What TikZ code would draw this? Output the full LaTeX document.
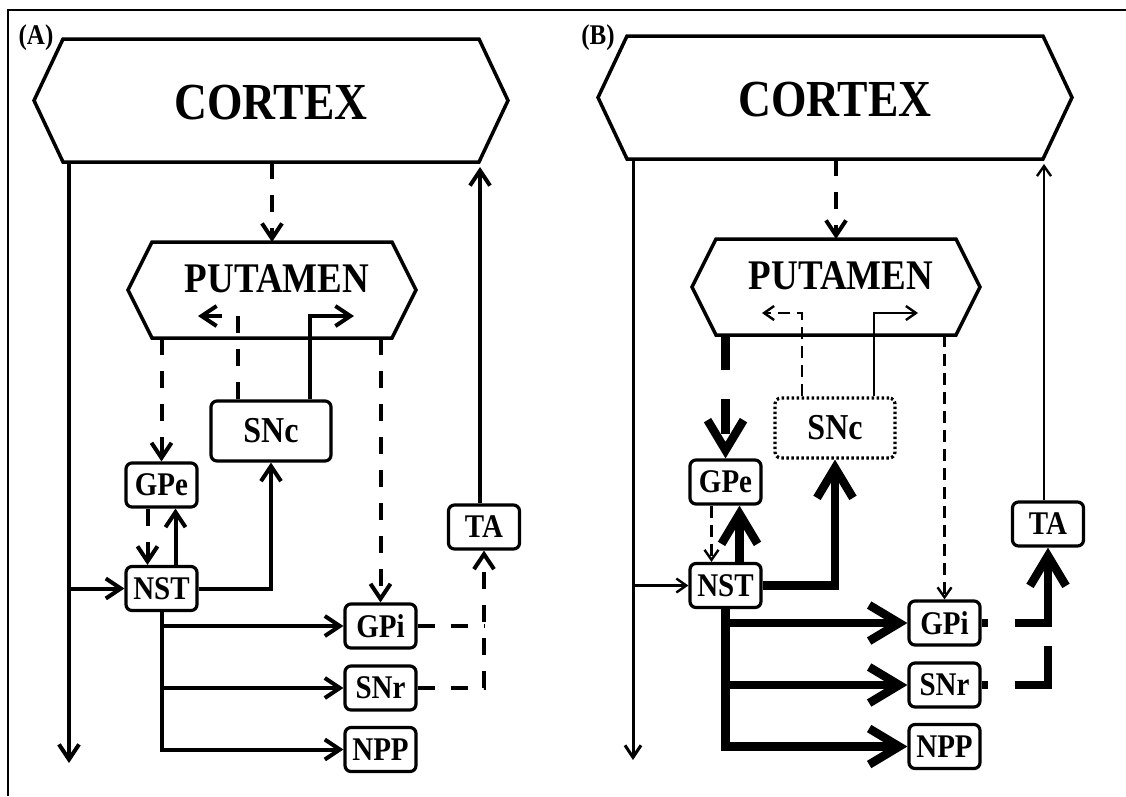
\documentclass[tikz,border=0pt]{standalone}
\usepackage{fontspec}
\setmainfont{Liberation Serif}
\usepackage{graphicx}
\usetikzlibrary{arrows.meta}
\newcommand\tall[1]{\scalebox{1}[1.14]{#1}}
\tikzset{
  fs/.style={font=\fontsize{#1}{#1}\selectfont\bfseries},
  region/.style={inner sep=0pt, outer sep=0pt},
  hex/.style={line width=3.5pt, line join=miter},
  box/.style={draw, line width=3.2pt, rounded corners=6pt, minimum width=71pt,
    minimum height=44pt, inner sep=0pt, fs=29},
  sncbox/.style={box, minimum width=120pt, minimum height=60pt, fs=32},
  wire/.style={line width=4pt},
  fine/.style={line width=2.4pt},
  heavy/.style={line width=8.5pt},
  tipA/.style={-{Straight Barb[length=15pt,width=20pt]}},
  tipM/.style={-{Straight Barb[length=12pt,width=16pt]}},
  tipS/.style={-{Straight Barb[length=10pt,width=14pt]}},
  tipL/.style={-{Straight Barb[length=30pt,width=36pt]}},
  dashA/.style={dash pattern=on 17pt off 16pt},
  dashS/.style={dash pattern=on 12pt off 7pt},
  dashL/.style={dash pattern=on 35pt off 29pt},
}
\begin{document}
\begin{tikzpicture}[x=1pt,y=-1pt]
\useasboundingbox (0,0) rectangle (1126,796);
% outer frame
\draw[line width=2pt] (8,796) -- (8,10) -- (1126,10);

% ---------------- panel A ----------------
\node[region, minimum width=474pt, minimum height=123pt] (a-cortex) at (271,100.5) {};
\draw[hex] ([xshift=29pt]a-cortex.north west) -- ([xshift=-29pt]a-cortex.north east)
  -- (a-cortex.east) -- ([xshift=-29pt]a-cortex.south east)
  -- ([xshift=29pt]a-cortex.south west) -- (a-cortex.west) -- cycle;
\node[fs=45.6] (a-cortexlbl) at (271,103) {\tall{CORTEX}};
\node[region, minimum width=288pt, minimum height=96pt] (a-put) at (272,290) {};
\draw[hex] ([xshift=24pt]a-put.north west) -- ([xshift=-24pt]a-put.north east)
  -- (a-put.east) -- ([xshift=-24pt]a-put.south east)
  -- ([xshift=24pt]a-put.south west) -- (a-put.west) -- cycle;
\node[fs=37] (a-putlbl) at (277,279) {\tall{PUTAMEN}};
\node[fs=25] (a-tag) at (36,38) {\tall{(A)}};

\node[sncbox] (a-snc) at (271,431) {\tall{SNc}};
\node[box] (a-gpe) at (161.5,485) {\tall{GPe}};
\node[box] (a-nst) at (161.5,588.5) {\tall{NST}};
\node[box] (a-ta) at (484,527) {\tall{TA}};
\node[box] (a-gpi) at (380.5,626) {\tall{GPi}};
\node[box] (a-snr) at (380.5,688) {\tall{SNr}};
\node[box] (a-npp) at (380.5,749.5) {\tall{NPP}};

\coordinate (a-down) at (69,763);
\coordinate (a-up) at (480,167);
\coordinate (a-back) at (198,316);
\coordinate (a-fwd) at (354,316);

\draw[wire, dashA, tipA] (a-cortex.south -| a-put.north) -- (a-put.north);
\draw[wire, dashA, tipA] ([xshift=-33pt]a-snc.north) |- (a-back);
\draw[wire, tipA] ([xshift=39pt]a-snc.north) |- (a-fwd);
\draw[wire, dashA, tipA] (a-put.south -| a-gpe.north) -- (a-gpe.north);
\draw[wire, dashA, tipA] ([xshift=-14pt]a-gpe.south) -- ([xshift=-14pt]a-nst.north);
\draw[wire, tipA] ([xshift=14pt]a-nst.north) -- ([xshift=14pt]a-gpe.south);
\draw[wire, tipA] (a-nst.east) -| (a-snc.south);
\draw[wire, tipA] (a-cortex.south -| a-down) -- (a-down);
\draw[wire, tipA] (a-down |- a-nst.west) -- (a-nst.west);
\draw[wire, tipA] (a-ta.north -| a-up) -- (a-up);
\draw[wire, dashA, tipA] (a-put.south -| a-gpi.north) -- (a-gpi.north);
\draw[wire, tipA] (a-nst.south) |- (a-npp.west);
\draw[wire, tipA] (a-nst.south |- a-gpi.west) -- (a-gpi.west);
\draw[wire, tipA] (a-nst.south |- a-snr.west) -- (a-snr.west);
\draw[wire, dashA] (a-gpi.east) -- (a-gpi.east -| a-ta.south);
\draw[wire, dashA, tipA] (a-snr.east) -| (a-ta.south);

% ---------------- panel B ----------------
\begin{scope}[shift={(564,-3)}]
\node[region, minimum width=474pt, minimum height=123pt] (b-cortex) at (271,100.5) {};
\draw[hex] ([xshift=29pt]b-cortex.north west) -- ([xshift=-29pt]b-cortex.north east)
  -- (b-cortex.east) -- ([xshift=-29pt]b-cortex.south east)
  -- ([xshift=29pt]b-cortex.south west) -- (b-cortex.west) -- cycle;
\node[fs=45.6] (b-cortexlbl) at (271,103) {\tall{CORTEX}};
\node[region, minimum width=288pt, minimum height=96pt] (b-put) at (272,290) {};
\draw[hex] ([xshift=24pt]b-put.north west) -- ([xshift=-24pt]b-put.north east)
  -- (b-put.east) -- ([xshift=-24pt]b-put.south east)
  -- ([xshift=24pt]b-put.south west) -- (b-put.west) -- cycle;
\node[fs=37] (b-putlbl) at (277,279) {\tall{PUTAMEN}};
\node[fs=25] (b-tag) at (34,41) {\tall{(B)}};

\node[sncbox, dash pattern=on 2.5pt off 2.5pt] (b-snc) at (271,431) {\tall{SNc}};
\node[box] (b-gpe) at (161.5,485) {\tall{GPe}};
\node[box] (b-nst) at (161.5,588.5) {\tall{NST}};
\node[box] (b-ta) at (484,527) {\tall{TA}};
\node[box] (b-gpi) at (380.5,626) {\tall{GPi}};
\node[box] (b-snr) at (380.5,688) {\tall{SNr}};
\node[box] (b-npp) at (380.5,749.5) {\tall{NPP}};

\coordinate (b-down) at (69,763);
\coordinate (b-up) at (480,167);
\coordinate (b-back) at (198,316);
\coordinate (b-fwd) at (354,316);

\draw[wire, dashA, tipA] (b-cortex.south -| b-put.north) -- (b-put.north);
\draw[fine, dashS, tipS] ([xshift=-33pt]b-snc.north) |- (b-back);
\draw[fine, tipS] ([xshift=39pt]b-snc.north) |- (b-fwd);
\draw[heavy, dashL, tipL] (b-put.south -| b-gpe.north) -- (b-gpe.north);
\draw[fine, dashS, tipS] ([xshift=-14pt]b-gpe.south) -- ([xshift=-14pt]b-nst.north);
\draw[heavy, tipL] ([xshift=14pt]b-nst.north) -- ([xshift=14pt]b-gpe.south);
\draw[heavy, tipL] (b-nst.east) -| (b-snc.south);
\draw[line width=3pt, tipM] (b-cortex.south -| b-down) -- (b-down);
\draw[fine, tipS] (b-down |- b-nst.west) -- (b-nst.west);
\draw[fine, tipS] (b-ta.north -| b-up) -- (b-up);
\draw[fine, dashS, tipS] (b-put.south -| b-gpi.north) -- (b-gpi.north);
\draw[heavy, tipL] (b-nst.south) |- (b-npp.west);
\draw[heavy, tipL] (b-nst.south |- b-gpi.west) -- (b-gpi.west);
\draw[heavy, tipL] (b-nst.south |- b-snr.west) -- (b-snr.west);
\draw[heavy, dash pattern=on 6pt off 27pt on 300pt, tipL] (b-gpi.east) -| (b-ta.south);
\draw[heavy, dash pattern=on 6pt off 27pt on 72pt off 100pt] (b-snr.east) -| (b-gpi.east -| b-ta.south);
\end{scope}
\end{tikzpicture}
\end{document}
